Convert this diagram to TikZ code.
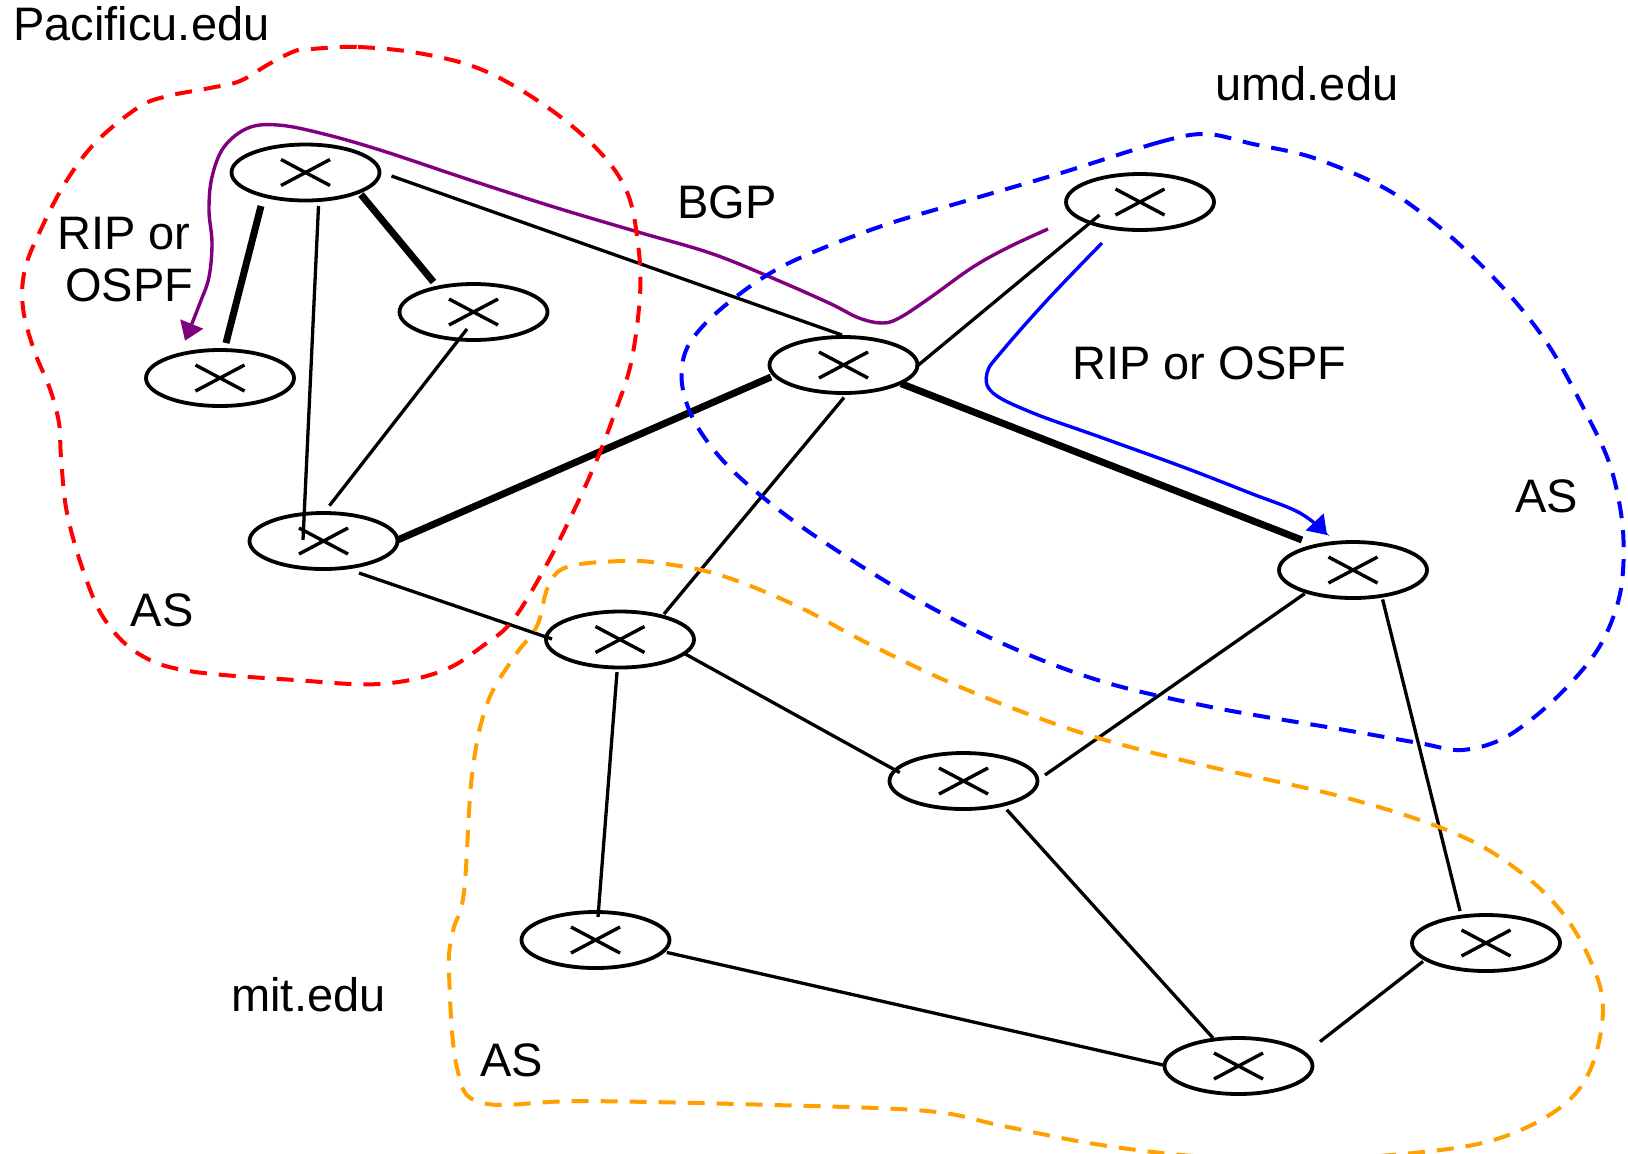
\documentclass[tikz,border=0pt]{standalone}
\usepackage{fontspec}
\setmainfont{Liberation Sans}
\usetikzlibrary{calc,shapes.geometric,arrows.meta}
\definecolor{asred}{RGB}{255,0,0}
\definecolor{asblue}{RGB}{0,0,255}
\definecolor{asorange}{RGB}{255,160,0}
\definecolor{bgppurple}{RGB}{128,0,128}
\tikzset{
  router/.style={ellipse, draw, line width=1.9pt, minimum width=74pt,
    minimum height=28pt, inner sep=0pt,
    path picture={
      \draw[line width=1.7pt]
        ([shift={(-12.25pt,6.5pt)}]path picture bounding box.center) --
        ([shift={(12.25pt,-6.5pt)}]path picture bounding box.center);
      \draw[line width=1.7pt]
        ([shift={(-12.25pt,-6.5pt)}]path picture bounding box.center) --
        ([shift={(12.25pt,6.5pt)}]path picture bounding box.center);
    }},
  link/.style={line width=1.65pt},
  trunk/.style={line width=3.5pt},
  boundary/.style={line width=2pt, dash pattern=on 8.5pt off 6pt},
  route/.style={line width=1.7pt, -{Triangle[length=9pt,width=12pt]}},
  lbl/.style={font=\fontsize{23.5}{28}\selectfont, inner sep=0pt, anchor=base west}
}
\begin{document}
\begin{tikzpicture}[x=0.5pt,y=-0.5pt]
\useasboundingbox (0,0) rectangle (1628,1153);
\clip (0,0) rectangle (1628,1153);

% routers
\node[router] (A) at (305.5,172.5) {};
\node[router] (B) at (220,378) {};
\node[router] (C) at (473.5,312) {};
\node[router] (D) at (323.5,541) {};
\node[router] (E) at (843.5,365) {};
\node[router] (F) at (1140,202) {};
\node[router] (G) at (1353,570) {};
\node[router] (H) at (620,639.5) {};
\node[router] (I) at (963.5,781) {};
\node[router] (J) at (595.5,940) {};
\node[router] (K) at (1486,943) {};
\node[router] (L) at (1238.5,1066) {};

% links
\draw[trunk] ($(A)+(-44.5,33.5)$) -- ($(B)+(6,-35)$);
\draw[link]  ($(A)+(13,33.5)$) -- ($(D)+(-20.5,-1)$);
\draw[trunk] ($(A)+(55.5,22)$) -- ($(C)+(-40,-30)$);
\draw[link]  ($(A)+(86,3.5)$) -- ($(E)+(-1.5,-30)$);
\draw[link]  ($(C)+(-6.5,17)$) -- ($(D)+(6,-35.4)$);
\draw[trunk] ($(D)+(74,-1)$) -- ($(E)+(-72.5,12)$);
\draw[link]  ($(D)+(35.5,32)$) -- ($(H)+(-68,-0.5)$);
\draw[link]  ($(E)+(72.5,2)$) -- ($(F)+(-40.5,13)$);
\draw[trunk] ($(E)+(57.5,18.6)$) -- ($(G)+(-51,-30)$);
\draw[link]  ($(E)+(0.5,32.5)$) -- ($(H)+(44,-25.5)$);
\draw[link]  ($(H)+(64.4,14)$) -- ($(I)+(-63.7,-8.4)$);
\draw[link]  ($(H)+(-3,32.5)$) -- ($(J)+(2.5,-23)$);
\draw[link]  ($(G)+(-48.3,23.6)$) -- ($(I)+(81.5,-6)$);
\draw[link]  ($(G)+(29.6,29.4)$) -- ($(K)+(-26,-32)$);
\draw[link]  ($(I)+(43.3,28.7)$) -- ($(L)+(-25.5,-28)$);
\draw[link]  ($(J)+(71.3,12.4)$) -- ($(L)+(-75.5,-1)$);
\draw[link]  ($(K)+(-63,18.4)$) -- ($(L)+(81.5,-24.4)$);

% inter-domain route (BGP)
\draw[route, bgppurple] plot[smooth, tension=0.6] coordinates {
  ($(F)+(-92,27)$) (1009,247) (973,267) (931,297) (901,317) (883,323)
  (859,318) (829,303) (770,277) (710,253) (638,232) (554,207) (470,180)
  (380,150) (320,133) (278,125) (248,128) (224,147) (212,177) (209,210)
  (212,243) (209,277) (200,303) ($(B)+(-35,-37.3)$)};

% intra-domain route
\draw[route, asblue] plot[smooth, tension=0.6] coordinates {
  ($(F)+(-38,41)$) (1050,297) (1003,350) (987,373) (993,393) (1033,413)
  (1100,437) (1183,467) (1250,493) (1300,513) ($(G)+(-26,-35)$)};

% autonomous system boundaries
\draw[boundary, asred] plot[smooth cycle, tension=0.6] coordinates {
  (311,49) (358,47) (421,53.5) (484,70.6) (547,107) (598,150) (627,192)
  (638,244) (640,295) (631,363) (614,415) (598,457) (577,504) (547,564)
  (513,620) (484,645) (442,671) (379,684) (295,680) (189,671) (139,654)
  (105,620) (84,573) (67,513) (61,457) (59,423) (50,389) (34,350) (23,308)
  (25,269) (42,227) (67,180) (97,141) (139,107) (168,96) (210,88) (240,81)
  (269,64) (295,51)};

\draw[boundary, asblue] plot[smooth cycle, tension=0.55] coordinates {
  (1206,134) (1160,142) (1061,173) (969,200) (876,228) (783,266) (722,308)
  (688,346) (682,384) (697,426) (734,472) (802,527) (907,594) (1006,645)
  (1104,682) (1216,708) (1339,729) (1419,743) (1462,750) (1506,737)
  (1555,699) (1598,649) (1620,594) (1623,531) (1611,468) (1586,413)
  (1549,346) (1506,291) (1450,236) (1388,190) (1314,158) (1253,144)};

\draw[boundary, asorange] plot[smooth cycle, tension=0.6] coordinates {
  (621,561) (567,567) (548,587) (537,626) (514,657) (487,704) (472,775)
  (464,892) (453,931) (449,970) (457,1068) (483,1103) (583,1101) (774,1105)
  (927,1111) (1003,1126) (1095,1144) (1194,1156) (1300,1160) (1423,1152)
  (1500,1138) (1561,1107) (1591,1068) (1603,1009) (1591,962) (1561,911)
  (1515,868) (1454,833) (1347,798) (1194,763) (1079,732) (965,689)
  (873,646) (797,606) (720,575) (659,563)};

% labels
\node[lbl] (pacificu) at (13,40) {Pacificu.edu};
\node[lbl] (umd) at (1215,100) {umd.edu};
\node[lbl] (mit) at (231,1011) {mit.edu};
\node[lbl] (bgp) at (677,218) {BGP};
\node[lbl] (rip1a) at (57,249) {RIP or};
\node[lbl] (rip1b) at (65,301) {OSPF};
\node[lbl] (rip2) at (1072,379) {RIP or OSPF};
\node[lbl] (as1) at (130.5,626) {AS};
\node[lbl] (as2) at (1515,512) {AS};
\node[lbl] (as3) at (480,1076) {AS};
\end{tikzpicture}
\end{document}
